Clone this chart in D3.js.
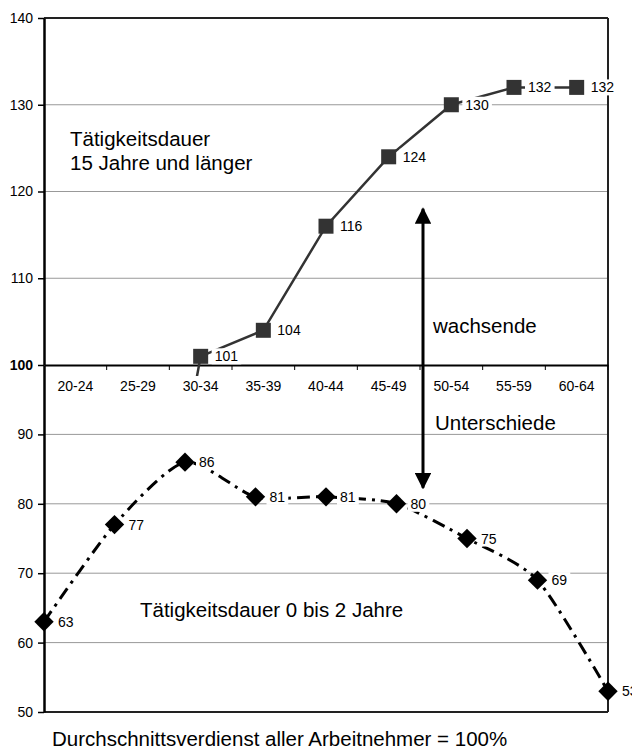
<!DOCTYPE html>
<html lang="de">
<head>
  <meta charset="UTF-8">
  <title>Verdienst nach Alter und Tätigkeitsdauer</title>
  <script src="https://d3js.org/d3.v7.min.js"></script>
  <style>
    * { margin: 0; padding: 0; }
    html, body { background-color: #fff; }
    svg { display: block; font-family: "Liberation Sans", Arial, sans-serif; }
    .tick-label { font-size: 14px; fill: #000; }
    .note { font-size: 20.5px; fill: #000; }
    .data-label { font-size: 14px; fill: #000; }
  </style>
</head>
<body>
  <svg id="chart" width="632" height="749"></svg>

  <script>
    // Altersgruppen
    var ageGroups = ['20-24', '25-29', '30-34', '35-39', '40-44', '45-49', '50-54', '55-59', '60-64'];
    // Tätigkeitsdauer 15 Jahre und länger (25-29 liegt unter der Skala, nur angeschnitten)
    var longTenure = [null, 62, 101, 104, 116, 124, 130, 132, 132];
    // Tätigkeitsdauer 0 bis 2 Jahre
    var shortTenure = [63, 77, 86, 81, 81, 80, 75, 69, 53];
    // Achsenbeschriftungen
    var topTicks = [140, 130, 120, 110, 100];
    var bottomTicks = [90, 80, 70, 60, 50];

    var pLeft = 44, pRight = 608, pTop = 18, pMid = 365, pBottom = 712;
    var svg = d3.select('#chart');

    var xBand = d3.scaleBand().domain(ageGroups).range([pLeft, pRight]).padding(0);
    var xPoint = d3.scalePoint().domain(ageGroups).range([pLeft, pRight]).padding(0);
    var yTop = d3.scaleLinear().domain([100, 140]).range([pMid, pTop]);
    var yBot = d3.scaleLinear().domain([50, 100]).range([pBottom, pMid]);

    // Gitterlinien
    svg.append('g').selectAll('line').data(topTicks.filter(function(t){ return t > 100 && t < 140; }))
      .join('line')
      .attr('x1', pLeft).attr('x2', pRight)
      .attr('y1', function(d){ return yTop(d); }).attr('y2', function(d){ return yTop(d); })
      .attr('stroke', '#999').attr('stroke-width', 1);
    svg.append('g').selectAll('line').data(bottomTicks.filter(function(t){ return t > 50; }))
      .join('line')
      .attr('x1', pLeft).attr('x2', pRight)
      .attr('y1', function(d){ return yBot(d); }).attr('y2', function(d){ return yBot(d); })
      .attr('stroke', '#999').attr('stroke-width', 1);

    // Rahmen
    svg.append('line').attr('x1', pLeft).attr('x2', pRight).attr('y1', pTop).attr('y2', pTop)
      .attr('stroke', '#222').attr('stroke-width', 2);
    svg.append('line').attr('x1', pRight).attr('x2', pRight).attr('y1', pTop).attr('y2', pBottom)
      .attr('stroke', '#222').attr('stroke-width', 2);
    svg.append('line').attr('x1', pLeft).attr('x2', pRight).attr('y1', pBottom).attr('y2', pBottom)
      .attr('stroke', '#222').attr('stroke-width', 2);

    // Y-Achsen
    var axTop = svg.append('g').attr('transform', 'translate(' + pLeft + ',0)')
      .call(d3.axisLeft(yTop).tickValues(topTicks).tickSize(6).tickSizeOuter(0));
    var axBot = svg.append('g').attr('transform', 'translate(' + pLeft + ',0)')
      .call(d3.axisLeft(yBot).tickValues(bottomTicks).tickSize(6).tickSizeOuter(0));
    [axTop, axBot].forEach(function(ax) {
      ax.select('.domain').attr('stroke', '#000').attr('stroke-width', 2.5);
      ax.selectAll('.tick line').attr('stroke', '#000').attr('stroke-width', 1.5);
      ax.selectAll('.tick text').attr('class', 'tick-label').attr('x', -11)
        .attr('font-family', null).attr('font-size', null)
        .style('font-weight', function(d){ return d === 100 ? 'bold' : 'normal'; });
    });

    // Kategorienachse bei 100
    var axX = svg.append('g').attr('transform', 'translate(0,' + pMid + ')')
      .call(d3.axisBottom(xBand).tickSize(0).tickSizeOuter(0));
    axX.select('.domain').attr('stroke', '#000').attr('stroke-width', 2);
    axX.selectAll('.tick text').attr('class', 'tick-label').attr('y', 16)
      .attr('font-family', null).attr('font-size', null);
    svg.append('g').selectAll('line').data(ageGroups.slice(1).concat(['end']))
      .join('line')
      .attr('x1', function(d){ return d === 'end' ? pRight : xBand(d); })
      .attr('x2', function(d){ return d === 'end' ? pRight : xBand(d); })
      .attr('y1', pMid).attr('y2', pMid + 5)
      .attr('stroke', '#000').attr('stroke-width', 1);

    // Pfeil
    var defs = svg.append('defs');
    defs.append('marker').attr('id', 'arrow').attr('viewBox', '0 0 10 10')
      .attr('refX', 9).attr('refY', 5).attr('markerWidth', 5.5).attr('markerHeight', 5.5)
      .attr('markerUnits', 'strokeWidth').attr('orient', 'auto-start-reverse')
      .append('path').attr('d', 'M0,0L10,5L0,10Z').attr('fill', '#000');
    defs.append('clipPath').attr('id', 'clipTop').append('rect')
      .attr('x', pLeft).attr('y', pTop).attr('width', pRight - pLeft).attr('height', 376 - pTop);

    var arrowX = xBand('50-54') + 3;
    svg.append('line').attr('x1', arrowX).attr('x2', arrowX)
      .attr('y1', yTop(118)).attr('y2', yBot(82.3))
      .attr('stroke', '#000').attr('stroke-width', 3)
      .attr('marker-start', 'url(#arrow)').attr('marker-end', 'url(#arrow)');

    // Linie 15 Jahre und länger
    var topData = ageGroups.map(function(g, i){ return { g: g, v: longTenure[i] }; })
      .filter(function(d){ return d.v !== null; });
    var lineTop = d3.line()
      .x(function(d){ return xBand(d.g) + xBand.bandwidth() / 2; })
      .y(function(d){ return yTop(d.v); });
    svg.append('path').datum(topData).attr('d', lineTop)
      .attr('clip-path', 'url(#clipTop)')
      .attr('fill', 'none').attr('stroke', '#333').attr('stroke-width', 2.5);

    // Linie 0 bis 2 Jahre
    var botData = ageGroups.map(function(g, i){ return { g: g, v: shortTenure[i] }; });
    var lineBot = d3.line()
      .x(function(d){ return xPoint(d.g); })
      .y(function(d){ return yBot(d.v); })
      .curve(d3.curveCardinal.tension(0.3));
    svg.append('path').datum(botData).attr('d', lineBot)
      .attr('fill', 'none').attr('stroke', '#000').attr('stroke-width', 3)
      .attr('stroke-dasharray', '13,6,3,6');

    // Datenbeschriftungen (weisser Hintergrund)
    function addLabel(x, y, txt) {
      var g = svg.append('g');
      var t = g.append('text').attr('class', 'data-label').attr('x', x).attr('y', y + 5).text(txt);
      var bb = t.node().getBBox();
      g.insert('rect', 'text').attr('x', bb.x - 3).attr('y', bb.y)
        .attr('width', bb.width + 6).attr('height', bb.height).attr('fill', '#fff');
    }

    var topShown = topData.filter(function(d){ return d.v >= 100; });
    topShown.forEach(function(d) {
      addLabel(xBand(d.g) + xBand.bandwidth() / 2 + 14, yTop(d.v), d.v);
    });
    botData.forEach(function(d) {
      addLabel(xPoint(d.g) + 14, yBot(d.v), d.v);
    });

    // Marker
    svg.append('g').selectAll('rect').data(topShown).join('rect')
      .attr('x', function(d){ return xBand(d.g) + xBand.bandwidth() / 2 - 7.5; })
      .attr('y', function(d){ return yTop(d.v) - 7.5; })
      .attr('width', 15).attr('height', 15).attr('fill', '#333');
    svg.append('g').selectAll('path').data(botData).join('path')
      .attr('d', d3.symbol().type(d3.symbolDiamond2).size(240))
      .attr('transform', function(d){ return 'translate(' + xPoint(d.g) + ',' + yBot(d.v) + ')'; })
      .attr('fill', '#000');

    // Texte
    var notes = svg.append('g').attr('class', 'notes');
    notes.append('text').attr('class', 'note').attr('x', 70).attr('y', 146).text('Tätigkeitsdauer');
    notes.append('text').attr('class', 'note').attr('x', 70).attr('y', 170).text('15 Jahre und länger');
    notes.append('text').attr('class', 'note').attr('x', 433).attr('y', 333).text('wachsende');
    notes.append('text').attr('class', 'note').attr('x', 435).attr('y', 430).text('Unterschiede');
    notes.append('text').attr('class', 'note').attr('x', 140).attr('y', 617).text('Tätigkeitsdauer 0 bis 2 Jahre');
    notes.append('text').attr('class', 'note').attr('x', 52).attr('y', 746).text('Durchschnittsverdienst aller Arbeitnehmer = 100%');
  </script>
</body>
</html>
